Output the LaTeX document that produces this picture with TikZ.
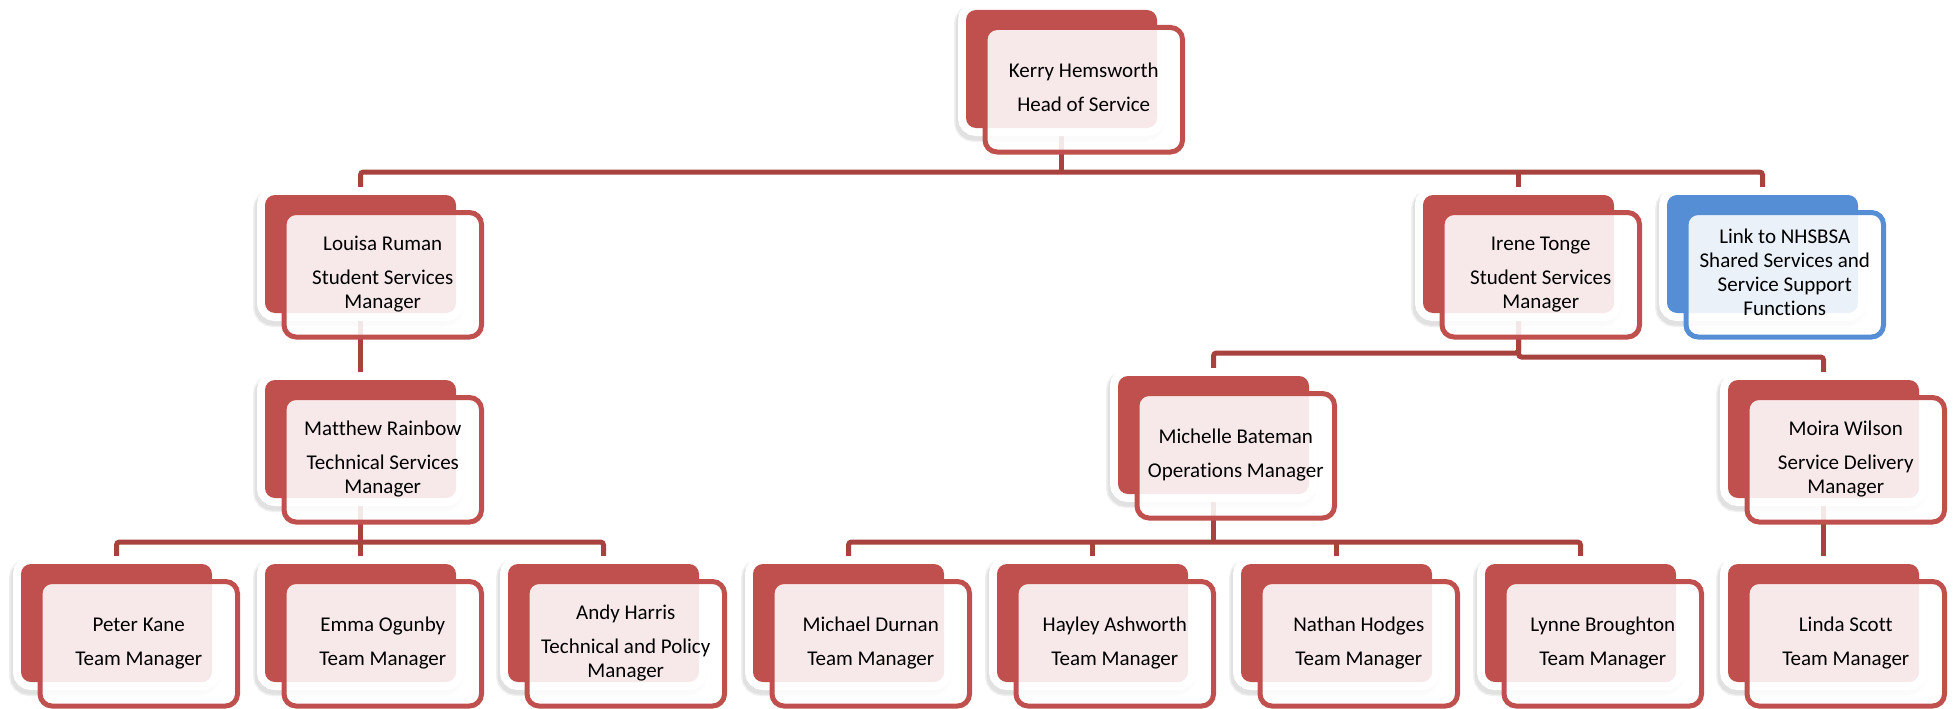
\documentclass[tikz,border=0pt]{standalone}
\usepackage{fontspec}
\setmainfont{Carlito}[Ligatures=NoCommon]
\usetikzlibrary{calc}
\definecolor{boxred}{HTML}{C0504D}
\definecolor{linkred}{HTML}{A8423F}
\definecolor{boxblue}{HTML}{558ED5}
\pgfdeclarelayer{bg}
\pgfsetlayers{bg,main}
\tikzset{
  backbox/.style={rectangle, rounded corners=10pt, fill=#1, minimum width=191pt, minimum height=118pt, inner sep=0pt, outer sep=0pt,
    preaction={draw=black, fill=black, opacity=0.06, line width=20pt, transform canvas={xshift=-2pt,yshift=-4pt}},
    preaction={draw=black, fill=black, opacity=0.06, line width=17pt, transform canvas={xshift=-2pt,yshift=-4pt}},
    preaction={draw=white, fill=white, line width=16pt}},
  frontbox/.style={rectangle, rounded corners=12pt, draw=#1, line width=5pt, fill=white, fill opacity=0.88, text opacity=1,
    minimum width=197.5pt, minimum height=124.5pt, inner sep=0pt, outer sep=0pt, align=center, text=black,
    font=\fontsize{21}{24}\selectfont},
  conn/.style={draw=linkred, line width=5pt, rounded corners=3pt},
}
\newcommand\orgbox[5]{%
  \node[backbox=#4] (#1b) at ({#2+95.5},{#3+59}) {};
  \node[frontbox=#4] (#1) at ({#2+117.75},{#3+79.75}) {#5};
}
\begin{document}
\begin{tikzpicture}[x=1pt,y=-1pt]
\useasboundingbox (0,0) rectangle (1957,709);
% row 0
\orgbox{kerry}{966}{10}{boxred}{\strut Kerry Hemsworth\\[9.5pt]\strut Head of Service}
% row 1
\orgbox{louisa}{265}{195}{boxred}{\strut Louisa Ruman\\[9.5pt]\strut Student Services\\\strut Manager}
\orgbox{irene}{1423}{195}{boxred}{\strut Irene Tonge\\[9.5pt]\strut Student Services\\\strut Manager}
\orgbox{link}{1667}{195}{boxblue}{\strut Link to NHSBSA\\\strut Shared Services and\\\strut Service Support\\\strut Functions}
% row 2
\orgbox{matthew}{265}{380}{boxred}{\strut Matthew Rainbow\\[9.5pt]\strut Technical Services\\\strut Manager}
\orgbox{michelle}{1118}{376}{boxred}{\strut Michelle Bateman\\[9.5pt]\strut Operations Manager}
\orgbox{moira}{1728}{380}{boxred}{\strut Moira Wilson\\[9.5pt]\strut Service Delivery\\\strut Manager}
% row 3
\orgbox{peter}{21}{564}{boxred}{\strut Peter Kane\\[9.5pt]\strut Team Manager}
\orgbox{emma}{265}{564}{boxred}{\strut Emma Ogunby\\[9.5pt]\strut Team Manager}
\orgbox{andy}{508}{564}{boxred}{\strut Andy Harris\\[9.5pt]\strut Technical and Policy\\\strut Manager}
\orgbox{michael}{753}{564}{boxred}{\strut Michael Durnan\\[9.5pt]\strut Team Manager}
\orgbox{hayley}{997}{564}{boxred}{\strut Hayley Ashworth\\[9.5pt]\strut Team Manager}
\orgbox{nathan}{1241}{564}{boxred}{\strut Nathan Hodges\\[9.5pt]\strut Team Manager}
\orgbox{lynne}{1485}{564}{boxred}{\strut Lynne Broughton\\[9.5pt]\strut Team Manager}
\orgbox{linda}{1728}{564}{boxred}{\strut Linda Scott\\[9.5pt]\strut Team Manager}
\begin{pgfonlayer}{bg}
\fill[white] (0,0) rectangle (1957,709);
% Kerry
\draw[conn] (kerryb.center) -- (kerryb.center |- 0,172);
\draw[conn] (louisab.center) -- (louisab.center |- 0,172) -- (linkb.center |- 0,172) -- (linkb.center);
\draw[conn] (ireneb.center) -- (ireneb.center |- 0,172);
% Louisa
\draw[conn] (louisab.center) -- (matthewb.center);
% Matthew
\draw[conn] (matthewb.center) -- (emmab.center);
\draw[conn] (peterb.center) -- (peterb.center |- 0,542) -- (andyb.center |- 0,542) -- (andyb.center);
% Irene
\draw[conn] (ireneb.center) -- (ireneb.center |- 0,353) -- (michelleb.center |- 0,353) -- (michelleb.center);
\draw[conn] (ireneb.center) -- (ireneb.center |- 0,357) -- (moirab.center |- 0,357) -- (moirab.center);
% Michelle
\draw[conn] (michelleb.center) -- (michelleb.center |- 0,542);
\draw[conn] (michaelb.center) -- (michaelb.center |- 0,542) -- (lynneb.center |- 0,542) -- (lynneb.center);
\draw[conn] (hayleyb.center) -- (hayleyb.center |- 0,542);
\draw[conn] (nathanb.center) -- (nathanb.center |- 0,542);
% Moira
\draw[conn] (moirab.center) -- (lindab.center);
\end{pgfonlayer}
\end{tikzpicture}
\end{document}
